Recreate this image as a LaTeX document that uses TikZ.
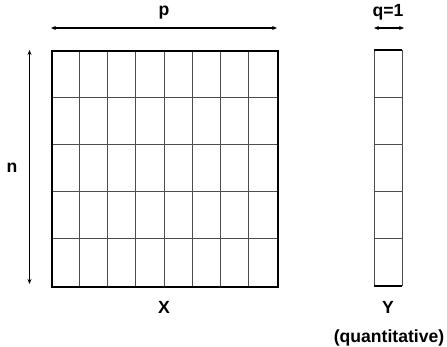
\documentclass[tikz,border=0pt]{standalone}
\usepackage{fontspec}
\setmainfont{Liberation Sans}
\usetikzlibrary{arrows.meta}
\begin{document}
\begin{tikzpicture}[x=1pt,y=-1pt,
  lbl/.style={font=\bfseries\fontsize{17.6}{20}\selectfont, inner sep=0pt},
  dimarrow/.style={{Stealth[length=5pt,width=4pt]}-{Stealth[length=5pt,width=4pt]}, line width=1.1pt},
  gridline/.style={line width=0.7pt, black!70},
  borderline/.style={line width=1.8pt, black}]
\useasboundingbox (0,0) rectangle (447,347);
% grid lines of X
\foreach \i in {1,...,7} \draw[gridline] (51+\i*28.25,50) -- ++(0,236);
\foreach \j in {1,...,4} \draw[gridline] (51,50+\j*47.2) -- ++(226,0);
\node[draw, borderline, minimum width=226pt, minimum height=236pt, anchor=north west, inner sep=0pt] (X) at (51,50) {};
% Y column
\coordinate (ytl) at (374,50);
\coordinate (ytr) at (402,50);
\coordinate (ybl) at (374,286);
\coordinate (ybr) at (402,286);
\draw[gridline] (ytl) -- (ybl) (ytr) -- (ybr);
\foreach \j in {1,...,4} \draw[gridline] (374,50+\j*47.2) -- ++(28,0);
\draw[borderline] (ytl) -- (ytr);
\draw[borderline] (ybl) -- (ybr);
% dimension arrows
\coordinate (pl) at (51,28);
\coordinate (pr) at (277,28);
\draw[dimarrow] (pl) -- (pr);
\coordinate (ql) at (374,28);
\coordinate (qr) at (404,28);
\draw[dimarrow] (ql) -- (qr);
\coordinate (nt) at (29.5,50);
\coordinate (nb) at (29.5,284);
\draw[dimarrow] (nt) -- (nb);
% labels
\node[lbl] (plabel) at (164,13) {p};
\node[lbl] (qlabel) at (388,12) {q=1};
\node[lbl] (nlabel) at (12,168) {n};
\node[lbl] (Xlabel) at (164,307) {X};
\node[lbl] (Ylabel) at (388,307) {Y};
\node[lbl] (quant) at (389,338) {(quantitative)};
\end{tikzpicture}
\end{document}
